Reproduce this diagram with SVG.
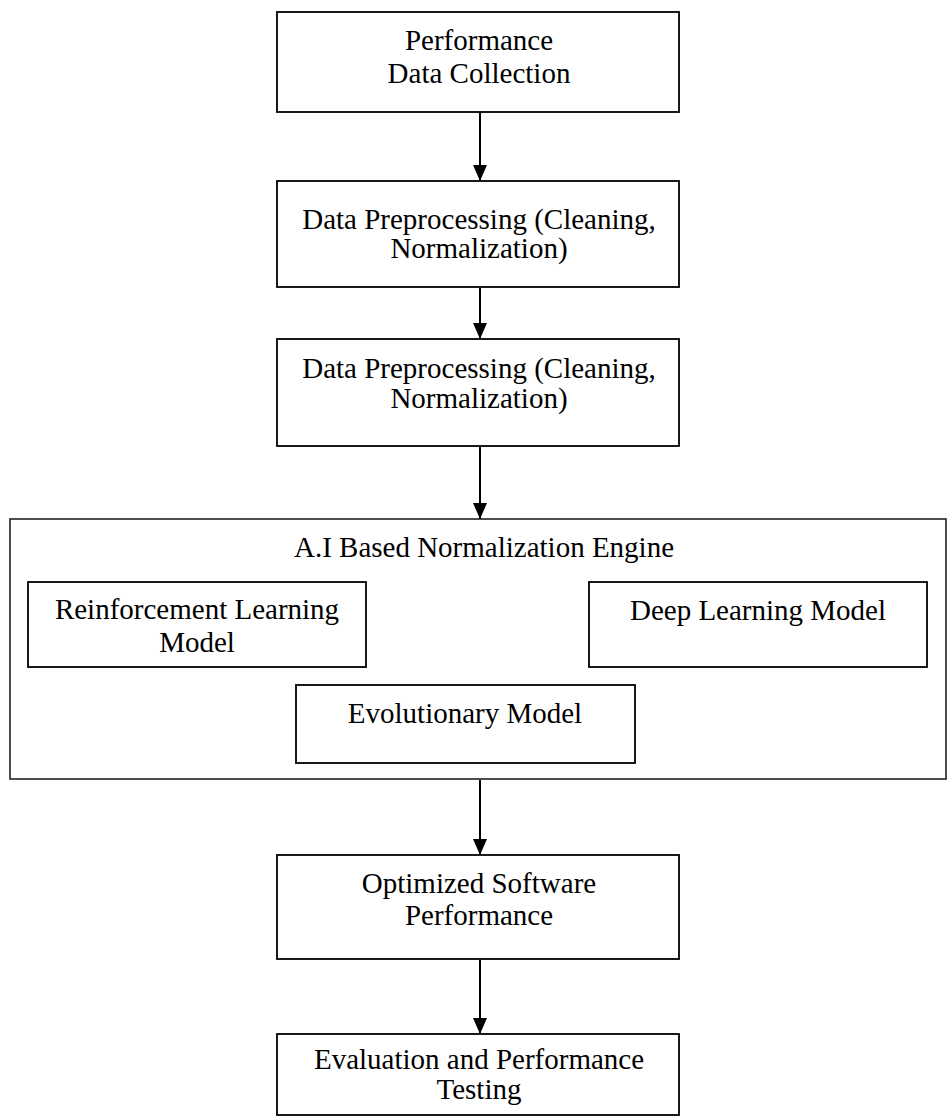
<svg xmlns="http://www.w3.org/2000/svg" width="947" height="1117" viewBox="0 0 947 1117">
<style>
.box{fill:#fff;stroke:#000;stroke-width:1.8}
.outer{fill:#fff;stroke:#222;stroke-width:1.6}
.t{font-family:"Liberation Serif","Times New Roman",serif;font-size:29px;fill:#000;text-anchor:middle}
.c{stroke:#000;stroke-width:2;fill:none}
</style>
<defs>
<marker id="ah" markerWidth="16" markerHeight="14" refX="16" refY="7" orient="auto" markerUnits="userSpaceOnUse" viewBox="0 0 16 14">
<path d="M0,0 L16,7 L0,14 Z" fill="#000"/>
</marker>
</defs>
<rect width="947" height="1117" fill="#fff"/>
<g id="n1"><rect class="box" x="277" y="12" width="402" height="100"/><text class="t" x="479" y="50">Performance</text><text class="t" x="479" y="83">Data Collection</text></g>
<g id="n2"><rect class="box" x="277" y="181" width="402" height="106"/><text class="t" x="479" y="229">Data Preprocessing (Cleaning,</text><text class="t" x="479" y="258">Normalization)</text></g>
<g id="n3"><rect class="box" x="277" y="339" width="402" height="107"/><text class="t" x="479" y="378">Data Preprocessing (Cleaning,</text><text class="t" x="479" y="408">Normalization)</text></g>
<g id="engine"><rect class="outer" x="10" y="519" width="936" height="260"/><text class="t" x="484" y="557">A.I Based Normalization Engine</text>
<g id="rl"><rect class="box" x="28" y="582" width="338" height="85"/><text class="t" x="197" y="619">Reinforcement Learning</text><text class="t" x="197" y="652">Model</text></g>
<g id="dl"><rect class="box" x="589" y="582" width="338" height="85"/><text class="t" x="758" y="620">Deep Learning Model</text></g>
<g id="evo"><rect class="box" x="296" y="685" width="339" height="78"/><text class="t" x="465" y="723">Evolutionary Model</text></g>
</g>
<g id="n5"><rect class="box" x="277" y="855" width="402" height="104"/><text class="t" x="479" y="893">Optimized Software</text><text class="t" x="479" y="925">Performance</text></g>
<g id="n6"><rect class="box" x="277" y="1034" width="402" height="81"/><text class="t" x="479" y="1069">Evaluation and Performance</text><text class="t" x="479" y="1099">Testing</text></g>
<g id="connectors">
<line class="c" x1="480" y1="113" x2="480" y2="181" marker-end="url(#ah)"/>
<line class="c" x1="480" y1="288" x2="480" y2="339" marker-end="url(#ah)"/>
<line class="c" x1="480" y1="447" x2="480" y2="519" marker-end="url(#ah)"/>
<line class="c" x1="480" y1="780" x2="480" y2="855" marker-end="url(#ah)"/>
<line class="c" x1="480" y1="960" x2="480" y2="1034" marker-end="url(#ah)"/>
</g>
</svg>
